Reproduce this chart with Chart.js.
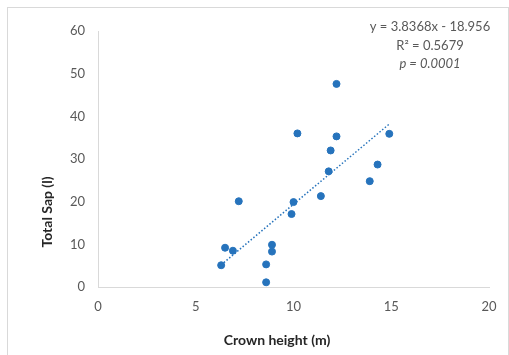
<!DOCTYPE html>
<html>
<head>
<meta charset="utf-8">
<script src="https://cdn.jsdelivr.net/npm/chart.js@4"></script>
<style>
  html, body { margin: 0; padding: 0; background: #fff; }
</style>
</head>
<body>
<canvas id="sap" width="509" height="355"></canvas>
<script>
    // crown height (m) vs total sap (l)
    const crownHeight = [6.3, 6.5, 6.9, 7.2, 8.6, 8.6, 8.9, 8.9, 9.9, 10.0, 10.2, 11.4, 11.8, 11.9, 12.2, 12.2, 13.9, 14.3, 14.9];
    const totalSap = [5.1, 9.2, 8.5, 20.1, 5.3, 1.1, 9.9, 8.3, 17.1, 19.9, 36.0, 21.3, 27.1, 32.0, 47.6, 35.3, 24.8, 28.7, 35.9];
    // ends of the dotted trend line
    const trendX = [6.3, 14.9];
    const trendY = [5.2, 38.2];
    const xTicks = [0, 5, 10, 15, 20];
    const yTicks = [0, 10, 20, 30, 40, 50, 60];
    const equationLines = ['y = 3.8368x - 18.956', 'R² = 0.5679', 'p = 0.0001'];

    const blue = 'rgb(38, 115, 188)';
    const font = 'Lato';

    const pts = crownHeight.map((x, i) => ({ x: x, y: totalSap[i] }));
    const trend = trendX.map((x, i) => ({ x: x, y: trendY[i] }));

    const extras = {
      id: 'extras',
      afterDraw(chart) {
        const c = chart.ctx;
        c.save();
        // outer frame
        c.strokeStyle = '#d9d9d9';
        c.lineWidth = 1;
        c.strokeRect(7.5, 7.5, 501, 360);
        // axis titles
        c.fillStyle = '#262626';
        c.font = 'bold 14px ' + font;
        c.textAlign = 'center';
        c.textBaseline = 'middle';
        c.fillText('Crown height (m)', 277, 340);
        c.translate(47, 212);
        c.rotate(-Math.PI / 2);
        c.fillText('Total Sap (l)', 0, 0);
        c.restore();
        // equation text
        c.save();
        c.fillStyle = '#595959';
        c.textAlign = 'center';
        c.textBaseline = 'middle';
        c.font = '13px ' + font;
        c.fillText(equationLines[0], 430, 27);
        c.fillText(equationLines[1], 430, 46);
        c.font = 'italic 13px ' + font;
        c.fillText(equationLines[2], 430, 64);
        c.restore();
      }
    };

    const ctx = document.getElementById('sap').getContext('2d');

    new Chart(ctx, {
      type: 'scatter',
      data: {
        datasets: [{
          label: 'Total Sap',
          data: pts,
          backgroundColor: blue,
          borderColor: blue,
          pointRadius: 3.5,
          pointHoverRadius: 3.5,
          order: 1
        }, {
          label: 'Trend',
          data: trend,
          showLine: true,
          borderColor: blue,
          borderWidth: 1.5,
          borderDash: [1.5, 2],
          pointRadius: 0,
          fill: false,
          order: 2
        }]
      },
      options: {
        responsive: false,
        animation: false,
        devicePixelRatio: 1,
        layout: {
          padding: { left: 0, top: 31, right: 20, bottom: 0 }
        },
        plugins: {
          legend: { display: false },
          tooltip: { enabled: false }
        },
        scales: {
          x: {
            type: 'linear',
            min: 0,
            max: 20,
            afterBuildTicks: (s) => { s.ticks = xTicks.map(v => ({ value: v })); },
            afterFit: (s) => { s.height = 68; },
            grid: { display: false, drawTicks: false },
            border: { display: true, color: '#d9d9d9', width: 1 },
            ticks: {
              color: '#595959',
              font: { family: font, size: 13 },
              padding: 12,
              maxRotation: 0
            }
          },
          y: {
            type: 'linear',
            min: 0,
            max: 60,
            afterBuildTicks: (s) => { s.ticks = yTicks.map(v => ({ value: v })); },
            afterFit: (s) => { s.width = 98; },
            grid: { display: false, drawTicks: false },
            border: { display: true, color: '#d9d9d9', width: 1 },
            ticks: {
              color: '#595959',
              font: { family: font, size: 13 },
              padding: 13
            }
          }
        }
      },
      plugins: [extras]
    });
</script>
</body>
</html>
